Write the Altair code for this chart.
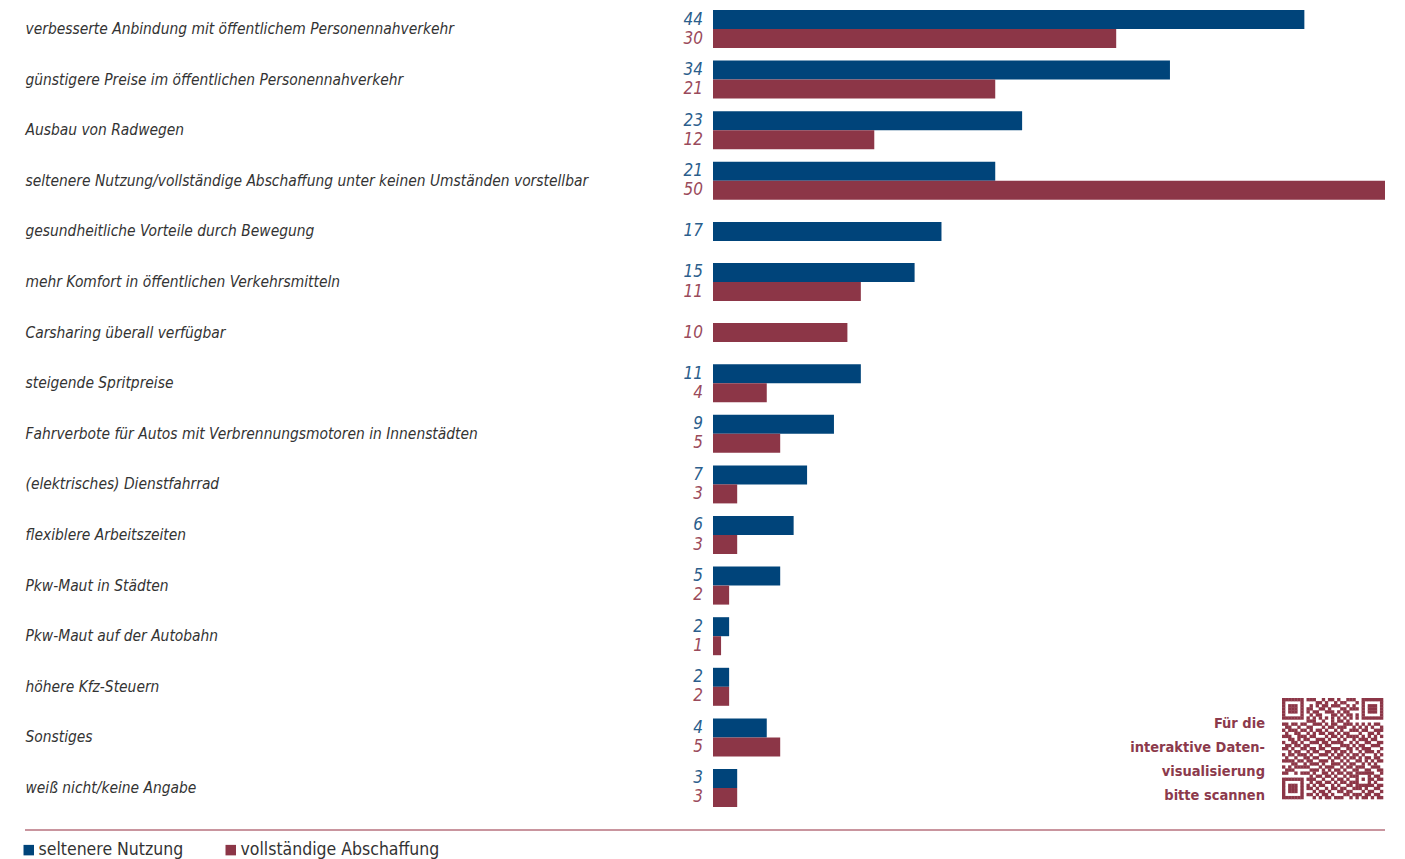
import altair as alt
import pandas as pd

categories = [
    "verbesserte Anbindung mit öffentlichem Personennahverkehr",
    "günstigere Preise im öffentlichen Personennahverkehr",
    "Ausbau von Radwegen",
    "seltenere Nutzung/vollständige Abschaffung unter keinen Umständen vorstellbar",
    "gesundheitliche Vorteile durch Bewegung",
    "mehr Komfort in öffentlichen Verkehrsmitteln",
    "Carsharing überall verfügbar",
    "steigende Spritpreise",
    "Fahrverbote für Autos mit Verbrennungsmotoren in Innenstädten",
    "(elektrisches) Dienstfahrrad",
    "flexiblere Arbeitszeiten",
    "Pkw-Maut in Städten",
    "Pkw-Maut auf der Autobahn",
    "höhere Kfz-Steuern",
    "Sonstiges",
    "weiß nicht/keine Angabe",
]
# printed labels
seltenere = [44, 34, 23, 21, 17, 15, None, 11, 9, 7, 6, 5, 2, 2, 4, 3]
abschaffung = [30, 21, 12, 50, None, 11, 10, 4, 5, 3, 3, 2, 1, 2, 5, 3]
# bar lengths as drawn in the picture
seltenere_bar = [44, 34, 23, 21, 17, 15, None, 11, 9, 7, 6, 5, 1.2, 1.2, 4, 1.8]
abschaffung_bar = [30, 21, 12, 50, None, 11, 10, 4, 5, 1.8, 1.8, 1.2, 0.6, 1.2, 5, 1.8]

series_names = ["seltenere Nutzung", "vollständige Abschaffung"]
bar_colors = ["#00447a", "#8c3647"]
label_colors = ["#2b5e8c", "#9a4a5b"]

rows = []
for i, c in enumerate(categories):
    for s, vals, lens in zip(series_names, [seltenere, abschaffung], [seltenere_bar, abschaffung_bar]):
        if vals[i] is not None:
            rows.append({"category": c, "series": s, "value": vals[i], "length": lens[i]})
df = pd.DataFrame(rows)

FONT = "Liberation Sans Narrow, DejaVu Sans Condensed, Roboto Condensed, sans-serif"

base = alt.Chart(df).transform_joinaggregate(n="count()", groupby=["category"])

y_enc = alt.Y(
    "category:N",
    sort=categories,
    scale=alt.Scale(paddingInner=0.249, paddingOuter=0),
    axis=alt.Axis(
        title=None, ticks=False, domain=False, labelAlign="left",
        labelPadding=688, labelFontSize=15.4, labelFontStyle="italic",
        labelColor="#333333", labelFont=FONT, labelLimit=700,
    ),
)
x_enc = alt.X("length:Q", scale=alt.Scale(domain=[0, 50]), axis=None)
color_enc = alt.Color(
    "series:N",
    scale=alt.Scale(domain=series_names, range=bar_colors),
    legend=alt.Legend(
        title=None, orient="none", legendX=-693, legendY=831,
        direction="horizontal", symbolType="square", symbolSize=110,
        symbolStrokeWidth=0, labelFontSize=17.5, labelFont=FONT,
        labelColor="#333333", columnPadding=38, labelOffset=1, labelLimit=400,
    ),
)
yoff = alt.YOffset("series:N", scale=alt.Scale(domain=series_names, paddingInner=0, paddingOuter=0))
label_color = alt.condition(
    alt.datum.series == series_names[0], alt.value(label_colors[0]), alt.value(label_colors[1])
)

pair = base.transform_filter("datum.n == 2")
single = base.transform_filter("datum.n == 1")

bars_pair = pair.mark_bar().encode(y=y_enc, x=x_enc, color=color_enc, yOffset=yoff)
bars_single = single.mark_bar(size=19).encode(y=y_enc, x=x_enc, color=color_enc)

text_props = dict(align="right", baseline="middle", dx=-10, fontSize=17,
                  fontStyle="italic", font=FONT)
text_pair = pair.mark_text(**text_props).encode(
    y=y_enc, x=alt.datum(0), yOffset=yoff, text="value:Q", color=label_color
)
text_single = single.mark_text(**text_props).encode(
    y=y_enc, x=alt.datum(0), text="value:Q", color=label_color
)

rule = alt.Chart(pd.DataFrame({"a": [0]})).mark_rule(
    color="#b7727e", strokeWidth=1.5, clip=False
).encode(x=alt.value(-688), x2=alt.value(672), y=alt.value(820))

qr_text = alt.Chart(pd.DataFrame({"a": [0]})).mark_text(
    text="Für die\ninteraktive Daten-\nvisualisierung\nbitte scannen",
    lineBreak="\n", lineHeight=24, align="right", baseline="top",
    fontSize=14.5, fontWeight="bold", font=FONT, color="#8c3a4c",
).encode(x=alt.value(552), y=alt.value(707))

# ---- decorative QR code (approximate module pattern) ----
qr_rows = [
    "101100101110010110100111010011011",
    "011011010001101001011000111010100",
    "110001110101011011100101010110011",
    "001110101100110100011011101001101",
    "101001011011001110101100010111010",
    "010111000101100011010110101100110",
    "111010110010101101001011100011011",
    "000101101110010010110100011101010",
    "110110010011101011001110101010110",
    "011001101100010110111001010101001",
    "101110110101101001010011101100111",
    "010011001010110110101100010011010",
    "111001110110001011010111101010101",
    "001101011001110100101001011101100",
    "100110100111011011110010100110011",
    "011011111000101100011101011001110",
    "110100010110110011100110101110001",
    "001011101011001101011010010111010",
    "101101010100111010110101101000101",
    "010010111011000101101011010110110",
    "111101001100111010010100110101011",
    "000110110111010011101011001010100",
    "101011011000101110010110111001110",
    "011100100111010101101001100110011",
    "110010111010011010110110011101001",
    "001101000101101101001011100010110",
    "100011101110010010110100111101011",
    "011110010101101101011011000110100",
    "101001101010110010100110101011011",
    "010110011101001011011001110100110",
    "111011100010110100110110001011001",
    "001100111101011010001101110110110",
    "100111010010101101110010101101011",
]
N = 33
grid = [[int(ch) for ch in (r + "0" * N)[:N]] for r in qr_rows]


def finder(r0, c0):
    for r in range(-1, 8):
        for c in range(-1, 8):
            rr, cc = r0 + r, c0 + c
            if 0 <= rr < N and 0 <= cc < N:
                if 0 <= r <= 6 and 0 <= c <= 6:
                    ring = max(abs(r - 3), abs(c - 3))
                    grid[rr][cc] = 0 if ring == 2 else 1
                else:
                    grid[rr][cc] = 0


finder(0, 0)
finder(0, N - 7)
finder(N - 7, 0)
for i in range(8, N - 8):
    grid[6][i] = 1 if i % 2 == 0 else 0
    grid[i][6] = 1 if i % 2 == 0 else 0
for r in range(-2, 3):
    for c in range(-2, 3):
        ring = max(abs(r), abs(c))
        grid[26 + r][26 + c] = 0 if ring == 1 else 1

cells = [{"r": r, "c": c} for r in range(N) for c in range(N) if grid[r][c]]
qr_df = pd.DataFrame(cells)
MOD = 101 / 33
qr = alt.Chart(qr_df).transform_calculate(
    x0=f"569 + datum.c * {MOD}", x1=f"569 + (datum.c + 1) * {MOD} + 0.3",
    y0=f"688 + datum.r * {MOD}", y1=f"688 + (datum.r + 1) * {MOD} + 0.3",
).mark_rect(color="#8c3647", clip=False).encode(
    x=alt.X("x0:Q", scale=None), x2="x1:Q",
    y=alt.Y("y0:Q", scale=None), y2="y1:Q",
)

chart = alt.layer(
    bars_pair, bars_single, text_pair, text_single, rule, qr_text, qr
).properties(
    width=672, height=797,
    padding={"left": 12, "top": 2, "right": 5, "bottom": 0},
).configure_view(stroke=None)

chart.save("out.html", embed_options={"renderer": "svg", "actions": False})
